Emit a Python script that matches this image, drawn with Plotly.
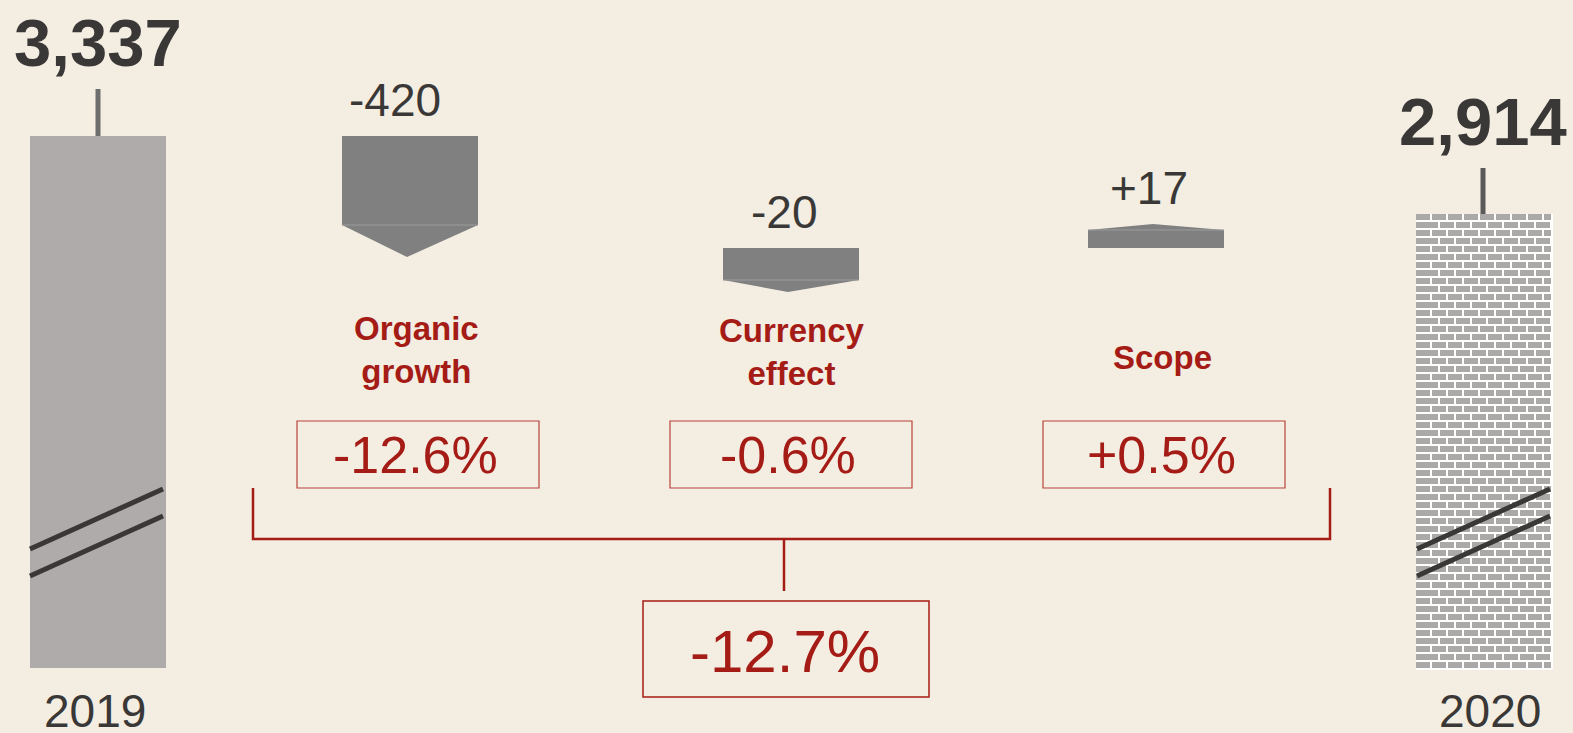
import plotly.graph_objects as go

# ---------------- data ----------------
years = ["2019", "2020"]
year_totals = [3337, 2914]
step_names = ["Organic<br>growth", "Currency<br>effect", "Scope"]
step_values = [-420, -20, 17]
step_pct = ["-12.6%", "-0.6%", "+0.5%"]
total_pct = "-12.7%"

# ---------------- style ----------------
BG = "#f4ede2"
DARK = "#3a3837"
RED = "#a51c16"
BOXRED = "#b8433b"
STEP_GRAY = "#808080"
BAR_GRAY = "#afabaa"
BRICK_GRAY = "#aba9a7"
FONT = "Liberation Sans, Arial, sans-serif"

W, H = 1573, 733

# geometry of the stylised (not-to-scale) layout, in display units
x_year = [98, 1483]          # centres of the year columns
x_step = [410, 791, 1156]    # centres of the step columns
col_w = 136
base_y = 668
top_2019 = 136
top_2020 = 214
stem_len = [47, 46]

def fmt_total(v):
    return f"{v:,}"

def fmt_step(v):
    return f"+{v}" if v > 0 else f"{v}"

# stylised heights for the steps (body, arrow) derived from magnitude
def step_geom(i, v):
    starts = [top_2019, 248, 248]
    big = abs(v) > 100
    body = 89 if big else (32 if v < 0 else 18)
    arrow = 32 if big else (12 if v < 0 else 6)
    y0 = starts[i]
    if v < 0:
        return dict(rect=(y0, y0 + body), tip=y0 + body + arrow, joint=y0 + body)
    else:
        return dict(rect=(y0 - body, y0), tip=y0 - body - arrow, joint=y0 - body)

fig = go.Figure()
shapes = []
annotations = []

# ---- 2019 bar ----
x0, x1 = x_year[0] - col_w / 2, x_year[0] + col_w / 2
shapes.append(dict(type="rect", x0=x0, x1=x1, y0=top_2019, y1=base_y,
                   fillcolor=BAR_GRAY, line=dict(width=0), layer="below"))

# ---- 2020 bar (brick pattern) ----
bx0, bx1 = x_year[1] - col_w / 2 + 1, x_year[1] + col_w / 2 + 1
shapes.append(dict(type="rect", x0=bx0, x1=bx1, y0=top_2020, y1=base_y + 1,
                   fillcolor=BRICK_GRAY, line=dict(width=0), layer="below"))
bxs, bys = [], []
row_h, brick_w = 8, 16
y = top_2020
row = 0
while y < base_y + 1:
    yl = y + row_h - 1
    if yl <= base_y + 1:
        bxs += [bx0, bx1, None]
        bys += [yl, yl, None]
    off = 0 if row % 2 == 0 else brick_w / 2
    xv = bx0 + off + brick_w - 1
    while xv < bx1:
        bxs += [xv, xv, None]
        bys += [y, min(y + row_h - 1, base_y + 1), None]
        xv += brick_w
    y += row_h
    row += 1
fig.add_trace(go.Scatter(x=bxs, y=bys, mode="lines",
                         line=dict(color="white", width=2),
                         hoverinfo="skip", showlegend=False))
shapes.append(dict(type="line", x0=bx1, x1=bx1, y0=top_2020, y1=base_y + 1,
                   line=dict(color="white", width=2)))

# ---- stems and totals ----
tops = [top_2019, top_2020]
for i in range(2):
    shapes.append(dict(type="line", x0=x_year[i], x1=x_year[i],
                       y0=tops[i] - stem_len[i], y1=tops[i],
                       line=dict(color="#6e6e6e" if i == 0 else "#5a5a5a", width=5)))
    annotations.append(dict(x=x_year[i], y=tops[i] - stem_len[i] - 47,
                            text=f"<b>{fmt_total(year_totals[i])}</b>",
                            font=dict(size=67, color=DARK, family=FONT),
                            showarrow=False, xanchor="center", yanchor="middle"))
    annotations.append(dict(x=x_year[i] - 3 if i == 0 else x_year[i] + 7, y=711,
                            text=years[i],
                            font=dict(size=46, color=DARK, family=FONT),
                            showarrow=False, xanchor="center", yanchor="middle"))

# ---- axis break marks ----
for i, xc in enumerate(x_year):
    xa, xb = xc - col_w / 2 + (0 if i == 0 else 2), xc + col_w / 2 - 3 + (0 if i == 0 else 2)
    for dy in (0, 27):
        shapes.append(dict(type="line", x0=xa, x1=xb, y0=549 + dy, y1=489 + dy,
                           line=dict(color=DARK, width=5)))

# ---- step arrows ----
for i, v in enumerate(step_values):
    g = step_geom(i, v)
    xc = x_step[i]
    x0, x1 = xc - col_w / 2, xc + col_w / 2
    r0, r1 = g["rect"]
    shapes.append(dict(type="rect", x0=x0, x1=x1, y0=r0, y1=r1,
                       fillcolor=STEP_GRAY, line=dict(width=0)))
    j = g["joint"]
    shapes.append(dict(type="path",
                       path=f"M {x0},{j} L {x1},{j} L {xc - 3},{g['tip']} Z",
                       fillcolor=STEP_GRAY, line=dict(width=0)))
    shapes.append(dict(type="line", x0=x0, x1=x1, y0=j, y1=j,
                       line=dict(color="#9c9c9c", width=1)))
    label_y = (r0 if v < 0 else g["tip"]) - 36
    annotations.append(dict(x=xc - 15 if i == 0 else xc - 7, y=label_y,
                            text=fmt_step(v),
                            font=dict(size=46, color=DARK, family=FONT),
                            showarrow=False, xanchor="center", yanchor="middle"))

# ---- category labels ----
cat_y = [350, 352, 357]
cat_dx = [6, 1, 6]
for i, name in enumerate(step_names):
    annotations.append(dict(x=x_step[i] + cat_dx[i], y=cat_y[i],
                            text=f"<b>{name}</b>",
                            font=dict(size=33, color=RED, family=FONT),
                            showarrow=False, xanchor="center", yanchor="middle"))

# ---- percentage boxes ----
box_cx = [418, 791, 1164]
box_w, box_top, box_bot = 242, 421, 488
for i, p in enumerate(step_pct):
    shapes.append(dict(type="rect", x0=box_cx[i] - box_w / 2, x1=box_cx[i] + box_w / 2,
                       y0=box_top, y1=box_bot, line=dict(color=BOXRED, width=1.2),
                       fillcolor="rgba(0,0,0,0)"))
    annotations.append(dict(x=box_cx[i] - 3, y=(box_top + box_bot) / 2,
                            text=p, font=dict(size=52, color=RED, family=FONT),
                            showarrow=False, xanchor="center", yanchor="middle"))

# ---- bracket ----
br_l, br_r, br_top, br_y = 253, 1330, 488, 539
shapes.append(dict(type="path",
                   path=f"M {br_l},{br_top} L {br_l},{br_y} L {br_r},{br_y} L {br_r},{br_top}",
                   line=dict(color=RED, width=2.5)))
shapes.append(dict(type="line", x0=784, x1=784, y0=br_y, y1=591,
                   line=dict(color=RED, width=2.5)))
shapes.append(dict(type="rect", x0=643, x1=929, y0=601, y1=697,
                   line=dict(color=RED, width=1.5), fillcolor="rgba(0,0,0,0)"))
annotations.append(dict(x=785, y=651, text=total_pct,
                        font=dict(size=60, color=RED, family=FONT),
                        showarrow=False, xanchor="center", yanchor="middle"))

fig.update_layout(
    width=W, height=H, autosize=False,
    margin=dict(l=0, r=0, t=0, b=0),
    paper_bgcolor=BG, plot_bgcolor=BG,
    xaxis=dict(range=[0, W], visible=False, fixedrange=True),
    yaxis=dict(range=[H, 0], visible=False, fixedrange=True),
    shapes=shapes, annotations=annotations, showlegend=False,
)

fig.write_html(
    "out.html",
    config={"displayModeBar": False},
    post_script=(
        "document.body.style.margin='0';"
        "document.body.style.padding='0';"
        "document.body.style.overflow='hidden';"
        "document.body.style.background='" + BG + "';"
    ),
)
